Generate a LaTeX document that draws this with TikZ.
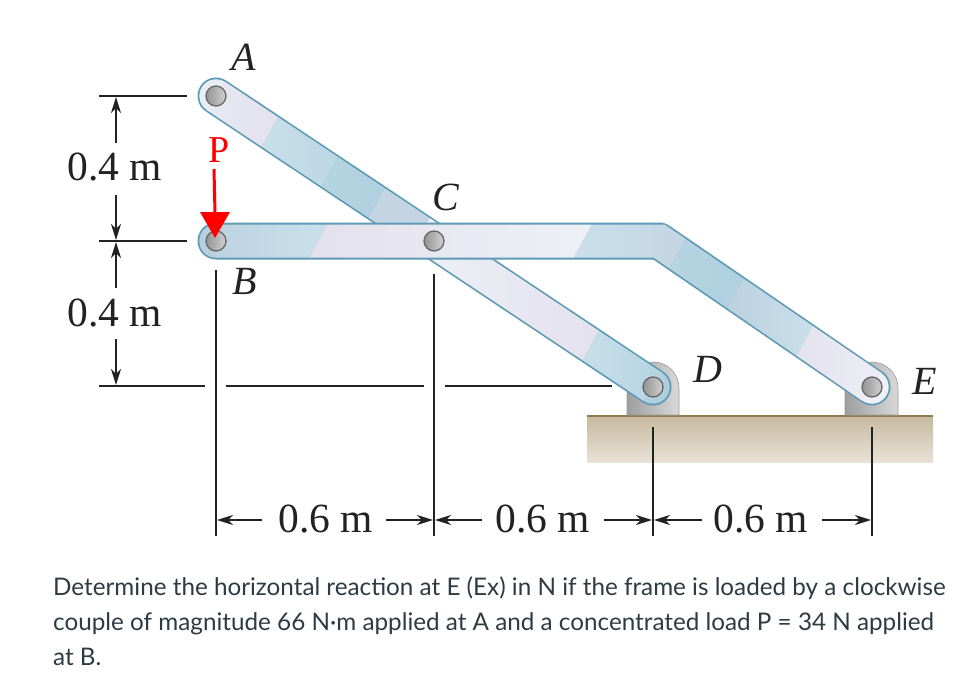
\documentclass[tikz,border=0pt]{standalone}
\usepackage{fontspec}
\setmainfont{Liberation Serif}
\newfontfamily\bodyfont{Lato}
\usetikzlibrary{arrows.meta}
\definecolor{barline}{HTML}{5E9AB5}
\definecolor{inka}{HTML}{222222}
\definecolor{bodyink}{HTML}{2D3B45}
\definecolor{lav}{HTML}{E3E0EC}
\definecolor{pale}{HTML}{E8ECF5}
\definecolor{paler}{HTML}{EEF1F8}
\definecolor{ice}{HTML}{CBE1EB}
\definecolor{bluea}{HTML}{B8D6E3}
\definecolor{blueb}{HTML}{ADCFDE}
\definecolor{slate}{HTML}{C3D4E3}
\definecolor{slateb}{HTML}{B9CFDF}
\definecolor{groundtop}{HTML}{C6B99F}
\definecolor{groundbot}{HTML}{E9E2D6}
\definecolor{groundline}{HTML}{8F7B4B}
\newcommand{\bandfill}[6]{%
  \shade[left color=#5,right color=#6]
    ({#1+22},{#2-40}) -- ({#3+22},{#4-40}) -- ({#3-22},{#4+40}) -- ({#1-22},{#2+40}) -- cycle;}
\tikzset{
  dimline/.style={inka,line width=1.5pt},
  dimarrow/.style={inka,line width=1.5pt,-{Stealth[length=16pt,width=10pt,inset=5pt]}},
  bartrace/.style={barline,line width=37pt,line cap=round,line join=round},
  pin/.style={circle,draw=black!60,line width=1.3pt,minimum size=20pt,inner sep=0pt,left color=black!42,right color=black!18},
  letter/.style={font=\fontsize{40}{40}\selectfont\itshape,text=inka,inner sep=0pt},
  dimtext/.style={font=\fontsize{41.5}{41.5}\selectfont,text=inka,inner sep=0pt},
  support/.style={left color=black!38,right color=black!15,draw=black!40,line width=0.6pt},
}
\begin{document}
\begin{tikzpicture}[x=1pt,y=-1pt]
\useasboundingbox (0,0) rectangle (975,674);
\fill[white] (0,0) rectangle (975,674);
\coordinate (PA) at (216,96);
\coordinate (PB) at (216,241);
\coordinate (PC) at (434,241);
\coordinate (PD) at (653,387);
\coordinate (PE) at (872,387);
\coordinate (Bend) at (659,241);
% ground
\shade[top color=groundtop,bottom color=groundbot] (587,416) rectangle (933,462);
\draw[groundline,line width=2pt] (587,416) -- (933,416);
% supports
\path[support] (627,415) -- (627,388) arc[start angle=180,end angle=360,x radius=26,y radius=26] -- (679,415) -- cycle;
\path[support] (845,415) -- (845,388) arc[start angle=180,end angle=360,x radius=26.5,y radius=26] -- (898,415) -- cycle;
% bar A-D
\draw[bartrace] (PA) -- (PD);
\fill[pale] (PA) circle (16.7);
\fill[blueb] (PD) circle (16.7);
\begin{scope}
\clip (225.3,82) -- (662.3,373) -- (643.7,401) -- (206.7,110) -- cycle;
\bandfill{200}{85}{270}{132}{pale}{lav}
\bandfill{270}{132}{330}{172}{ice}{bluea}
\bandfill{330}{172}{377}{202}{bluea}{blueb}
\bandfill{377}{202}{440}{246}{slate}{slate}
\bandfill{420}{236}{592}{344}{paler}{lav}
\bandfill{592}{344}{670}{398}{ice}{blueb}
\end{scope}
% bar B-Bend-E
\draw[bartrace] (PB) -- (Bend) -- (PE);
\fill[slateb] (PB) circle (16.7);
\fill[paler] (PE) circle (16.7);
\begin{scope}
\clip (216,224.5) -- (664.5,224.5) -- (881.5,373) -- (862.5,401) -- (653.5,257.5) -- (216,257.5) -- cycle;
\bandfill{205}{241}{318}{241}{slateb}{ice}
\bandfill{318}{241}{583}{241}{lav}{paler}
\bandfill{583}{241}{678}{253}{ice}{slate}
\bandfill{678}{253}{735}{293}{bluea}{blueb}
\bandfill{735}{293}{805}{340}{slateb}{ice}
\bandfill{805}{340}{885}{395}{lav}{paler}
\end{scope}
% pins
\node[pin] (pinA) at (PA) {};
\node[pin] (pinB) at (PB) {};
\node[pin] (pinC) at (PC) {};
\node[pin] (pinD) at (PD) {};
\node[pin] (pinE) at (PE) {};
% labels
\node[letter] (lA) at (244,57) {A};
\node[letter] (lB) at (245,281) {B};
\node[letter] (lC) at (446,197) {C};
\node[letter] (lD) at (708,369) {D};
\node[letter] (lE) at (925,381) {E};
% height dimensions
\coordinate (a1) at (99,96);  \coordinate (a2) at (187,96);
\coordinate (b1) at (99,241); \coordinate (b2) at (187,241);
\coordinate (c1) at (99,386); \coordinate (c2) at (205,386);
\coordinate (c3) at (226,386); \coordinate (c4) at (424,386);
\coordinate (c5) at (445,386); \coordinate (c6) at (612,386);
\draw[dimline] (a1) -- (a2);
\draw[dimline] (b1) -- (b2);
\draw[dimline] (c1) -- (c2);
\draw[dimline] (c3) -- (c4);
\draw[dimline] (c5) -- (c6);
\node[dimtext] (h1) at (115,167) {0.4 m};
\node[dimtext] (h2) at (115,313) {0.4 m};
\coordinate (h1u) at (116,143); \coordinate (h1ut) at (116,97);
\coordinate (h1d) at (116,195); \coordinate (h1dt) at (116,240);
\coordinate (h2u) at (116,288); \coordinate (h2ut) at (116,242);
\coordinate (h2d) at (116,339); \coordinate (h2dt) at (116,385);
\draw[dimarrow] (h1u) -- (h1ut);
\draw[dimarrow] (h1d) -- (h1dt);
\draw[dimarrow] (h2u) -- (h2ut);
\draw[dimarrow] (h2d) -- (h2dt);
% width dimensions
\coordinate (v1t) at (216,270); \coordinate (v1b) at (216,536);
\coordinate (v2t) at (434,274); \coordinate (v2b) at (434,536);
\coordinate (v3t) at (653,427); \coordinate (v3b) at (653,536);
\coordinate (v4t) at (872,427); \coordinate (v4b) at (872,536);
\draw[dimline] (v1t) -- (v1b);
\draw[dimline] (v2t) -- (v2b);
\draw[dimline] (v3t) -- (v3b);
\draw[dimline] (v4t) -- (v4b);
\node[dimtext] (w1) at (326,519) {0.6 m};
\node[dimtext] (w2) at (543,519) {0.6 m};
\node[dimtext] (w3) at (761,519) {0.6 m};
\coordinate (w1l) at (262,520); \coordinate (w1lt) at (217,520);
\coordinate (w1r) at (386,520); \coordinate (w1rt) at (433,520);
\coordinate (w2l) at (482,520); \coordinate (w2lt) at (435,520);
\coordinate (w2r) at (604,520); \coordinate (w2rt) at (652,520);
\coordinate (w3l) at (702,520); \coordinate (w3lt) at (654,520);
\coordinate (w3r) at (822,520); \coordinate (w3rt) at (871,520);
\draw[dimarrow] (w1l) -- (w1lt);
\draw[dimarrow] (w1r) -- (w1rt);
\draw[dimarrow] (w2l) -- (w2lt);
\draw[dimarrow] (w2r) -- (w2rt);
\draw[dimarrow] (w3l) -- (w3lt);
\draw[dimarrow] (w3r) -- (w3rt);
% load P
\node[font=\fontsize{38}{38}\selectfont,text=red,inner sep=0pt] (lP) at (219,150) {P};
\coordinate (Pstart) at (214,169);
\coordinate (Pneck) at (215,213);
\coordinate (Ptip) at (215,238);
\draw[red,line width=3pt] (Pstart) -- (Pneck);
\fill[red] (200,212) -- (230,212) -- (Ptip) -- cycle;
% question text
\node[anchor=north west,inner sep=0pt,align=left,text=bodyink,font=\bodyfont\fontsize{24.25}{35}\selectfont] (question) at (53,576)
{Determine the horizontal reaction at E (Ex) in N if the frame is loaded by a clockwise\\
couple of magnitude 66 N·m applied at A and a concentrated load P = 34 N applied\\
at B.};
\end{tikzpicture}
\end{document}
